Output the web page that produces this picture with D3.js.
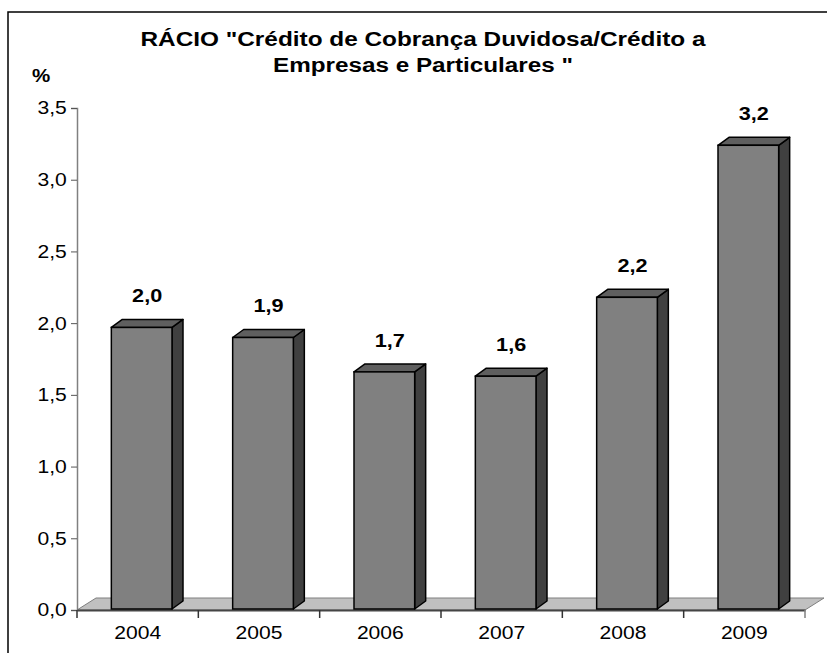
<!DOCTYPE html>
<html>
<head>
<meta charset="utf-8">
<script src="https://cdn.jsdelivr.net/npm/d3@7"></script>
<style>
  body { margin: 0; background: #fff; }
  text { font-family: "Liberation Sans", Arial, sans-serif; }
</style>
</head>
<body>
<script>
// data
var years = ["2004", "2005", "2006", "2007", "2008", "2009"];
var ratios = [1.97, 1.90, 1.66, 1.63, 2.18, 3.24];
var valueLabels = ["2,0", "1,9", "1,7", "1,6", "2,2", "3,2"];
var yTicks = [0, 0.5, 1, 1.5, 2, 2.5, 3, 3.5];
var titleLines = ['RÁCIO "Crédito de Cobrança Duvidosa/Crédito a', 'Empresas e Particulares "'];

var W = 827, H = 653;
var left = 77, right = 805, zeroY = 610, topY = 108;
var floorDx = 19, floorDy = -12;   // depth of the floor
var barDx = 11, barDy = -8;        // depth of each bar
var stretch = 1.14;                // the original text is a bit wide

var svg = d3.select("body").append("svg")
  .attr("width", W).attr("height", H);

// outer frame
svg.append("rect")
  .attr("x", 8).attr("y", 12).attr("width", 830).attr("height", 660)
  .attr("fill", "none").attr("stroke", "#000").attr("stroke-width", 1.5);

var x = d3.scaleBand().domain(years).range([left, right]).paddingInner(0).paddingOuter(0);
var y = d3.scaleLinear().domain([0, 3.5]).range([zeroY, topY]);

// title
var titleWidths = [565, 300];
svg.selectAll("text.title").data(titleLines).enter().append("text")
  .attr("class", "title")
  .attr("x", 423).attr("y", (d, i) => 46 + i * 26)
  .attr("text-anchor", "middle")
  .attr("textLength", (d, i) => titleWidths[i])
  .attr("lengthAdjust", "spacingAndGlyphs")
  .style("font-size", "20px").style("font-weight", "bold")
  .text(d => d);

svg.append("text")
  .attr("transform", `translate(41,82) scale(${stretch},1)`)
  .attr("text-anchor", "middle")
  .style("font-size", "18px").style("font-weight", "bold")
  .text("%");

// floor
var floorPts = [
  [left, zeroY], [right, zeroY],
  [right + floorDx, zeroY + floorDy], [left + floorDx, zeroY + floorDy]
];
svg.append("path")
  .attr("d", d3.line()(floorPts) + "Z")
  .attr("fill", "#c0c0c0").attr("stroke", "#7f7f7f").attr("stroke-width", 1);

// y axis
var yAxis = d3.axisLeft(y).tickValues(yTicks).tickSize(6).tickPadding(3)
  .tickFormat(d => d3.format(".1f")(d).replace(".", ","));
var gy = svg.append("g").attr("transform", `translate(${left},0)`).call(yAxis);
gy.select(".domain").attr("stroke", "#808080").attr("stroke-width", 1.5);
gy.selectAll(".tick line").attr("stroke", "#555");
gy.selectAll(".tick text").style("font-size", "18.5px").attr("fill", "#000")
  .attr("font-family", "Liberation Sans, Arial, sans-serif")
  .attr("transform", `scale(${stretch},1)`);

// x axis (front edge of floor)
var xAxis = d3.axisBottom(x).tickSize(0).tickPadding(16);
var gx = svg.append("g").attr("transform", `translate(0,${zeroY})`).call(xAxis);
gx.select(".domain").attr("stroke", "#444").attr("stroke-width", 2);
gx.selectAll(".tick text").style("font-size", "18.5px").attr("fill", "#000")
  .attr("font-family", "Liberation Sans, Arial, sans-serif")
  .attr("transform", `scale(${stretch},1)`);

// category separator ticks
var bounds = years.map(d => x(d)).concat([right]);
svg.selectAll("line.sep").data(bounds).enter().append("line")
  .attr("class", "sep")
  .attr("x1", d => d).attr("x2", d => d)
  .attr("y1", zeroY).attr("y2", zeroY + 8)
  .attr("stroke", d => d === right ? "#808080" : "#333").attr("stroke-width", 1.5);

// bars
var bw = x.bandwidth() * 0.5;
var barX = d => x(d) + x.bandwidth() / 2 - bw / 2 + 4;

var bars = svg.selectAll("g.bar").data(years).enter().append("g").attr("class", "bar");

bars.each(function(d, i) {
  var g = d3.select(this);
  var x0 = barX(d), x1 = x0 + bw;
  var yt = y(ratios[i]), yb = zeroY - 1;
  // side face
  g.append("path")
    .attr("d", d3.line()([[x1, yb], [x1 + barDx, yb + barDy], [x1 + barDx, yt + barDy], [x1, yt]]) + "Z")
    .attr("fill", "#404040").attr("stroke", "#000").attr("stroke-width", 1.5).attr("stroke-linejoin", "round");
  // top face
  g.append("path")
    .attr("d", d3.line()([[x0, yt], [x0 + barDx, yt + barDy], [x1 + barDx, yt + barDy], [x1, yt]]) + "Z")
    .attr("fill", "#5f5f5f").attr("stroke", "#000").attr("stroke-width", 1.5).attr("stroke-linejoin", "round");
  // front face
  g.append("rect")
    .attr("x", x0).attr("y", yt).attr("width", bw).attr("height", yb - yt)
    .attr("fill", "#808080").attr("stroke", "#000").attr("stroke-width", 1.5);
  // value label
  g.append("text")
    .attr("transform", `translate(${x0 + bw / 2 + barDx / 2},${yt + barDy - 17}) scale(${stretch},1)`)
    .attr("text-anchor", "middle")
    .style("font-size", "19px").style("font-weight", "bold")
    .text(valueLabels[i]);
});
</script>
</body>
</html>
